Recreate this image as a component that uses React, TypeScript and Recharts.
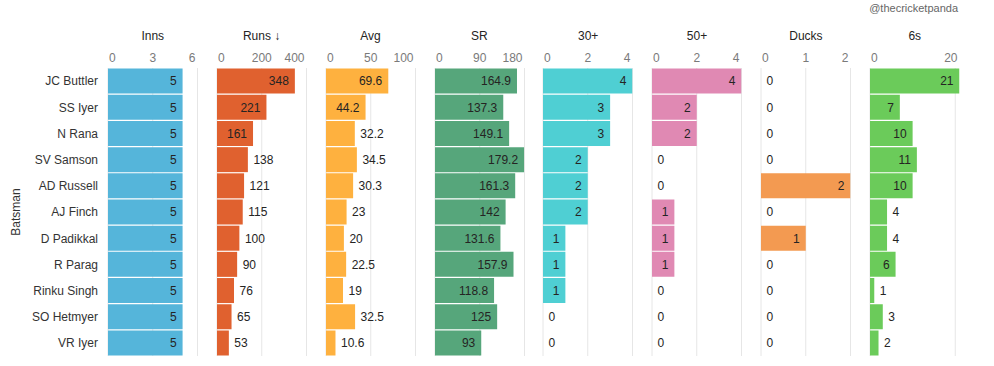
import { Bar, BarChart, CartesianGrid, LabelList, XAxis, YAxis } from 'recharts';

const batsmen = [
  'JC Buttler',
  'SS Iyer',
  'N Rana',
  'SV Samson',
  'AD Russell',
  'AJ Finch',
  'D Padikkal',
  'R Parag',
  'Rinku Singh',
  'SO Hetmyer',
  'VR Iyer',
];

const inns = [5, 5, 5, 5, 5, 5, 5, 5, 5, 5, 5];
const runs = [348, 221, 161, 138, 121, 115, 100, 90, 76, 65, 53];
const avg = [69.6, 44.2, 32.2, 34.5, 30.3, 23, 20, 22.5, 19, 32.5, 10.6];
const strikeRate = [164.9, 137.3, 149.1, 179.2, 161.3, 142, 131.6, 157.9, 118.8, 125, 93];
const thirties = [4, 3, 3, 2, 2, 2, 1, 1, 1, 0, 0];
const fifties = [4, 2, 2, 0, 0, 1, 1, 1, 0, 0, 0];
const ducks = [0, 0, 0, 0, 2, 0, 1, 0, 0, 0, 0];
const sixes = [21, 7, 10, 11, 10, 4, 4, 6, 1, 3, 2];

const titles = ['Inns', 'Runs ↓', 'Avg', 'SR', '30+', '50+', 'Ducks', '6s'];
const tickSets = [
  [0, 3, 6],
  [0, 200, 400],
  [0, 50, 100],
  [0, 90, 180],
  [0, 2, 4],
  [0, 2, 4],
  [0, 1, 2],
  [0, 20],
];
const domainMax = [6, 400, 100, 180, 4, 4, 2, 21];
const colors = ['#55B5DA', '#E0612F', '#FEB13F', '#56A67B', '#4FCFD3', '#E089B3', '#F39A51', '#6BCB5A'];
const seriesValues = [inns, runs, avg, strikeRate, thirties, fifties, ducks, sixes];

const FONT = '"Liberation Sans", Arial, sans-serif';
const TEXT = '#252423';
const CHART_H = 366;
const PLOT_TOP = 68;
const PLOT_BOTTOM = 356;
const FIRST_LEFT = 108;
const PITCH = 108.86;
const PLOT_W = 89.5;
const Y_AXIS_W = 108;

// rough width of a 12px label, good enough to decide inside/outside
function textWidth(s: string) {
  let w = 0;
  for (const c of s) w += c === '.' ? 3.34 : 6.67;
  return w;
}

function ValueLabel(props: any) {
  const { x, y, width, height, value } = props;
  const label = String(value);
  const w = textWidth(label);
  const inside = width >= w + 12;
  const tx = inside ? x + width - 6 : x + width + 5.5;
  return (
    <text
      x={tx}
      y={y + height / 2}
      dy="0.36em"
      textAnchor={inside ? 'end' : 'start'}
      fontSize={12}
      fontFamily={FONT}
      fill={TEXT}
    >
      {label}
    </text>
  );
}

function makeTick(left: number, right: number) {
  return (props: any) => {
    const { x, payload } = props;
    const label = String(payload.value);
    const half = textWidth(label) / 2;
    let cx = x;
    if (cx - half < left + 1) cx = left + 1 + half;
    if (cx + half > right - 2) cx = right - 2 - half;
    return (
      <text x={cx} y={PLOT_TOP - 6} textAnchor="middle" fontSize={12} fontFamily={FONT} fill="#7a7a7a">
        {label}
      </text>
    );
  };
}

function NameTick(props: any) {
  const { y, payload } = props;
  return (
    <text x={98} y={y} dy="0.36em" textAnchor="end" fontSize={12} fontFamily={FONT} fill="#333">
      {payload.value}
    </text>
  );
}

// zero bars have no rect, so their "0" label rides on the category tick
function makeZeroTick(values: number[], left: number) {
  return (props: any) => {
    const { y, index } = props;
    if (values[index] !== 0) return <g />;
    return (
      <text x={left + 5.5} y={y} dy="0.36em" textAnchor="start" fontSize={12} fontFamily={FONT} fill={TEXT}>
        0
      </text>
    );
  };
}

function MetricPanel({ index }: { index: number }) {
  const values = seriesValues[index];
  const data = batsmen.map((name, i) => ({ name, value: values[i] }));
  const first = index === 0;
  const plotLeft = FIRST_LEFT + index * PITCH;
  const marginLeft = first ? 0 : 3;
  const yW = first ? Y_AXIS_W : 1;
  const localLeft = marginLeft + yW;
  const width = localLeft + PLOT_W + 4;
  const ticks = tickSets[index];

  return (
    <div style={{ position: 'absolute', left: plotLeft - localLeft, top: 0 }}>
      <BarChart
        layout="vertical"
        width={width}
        height={CHART_H}
        data={data}
        margin={{ top: PLOT_TOP - 20, right: 4, bottom: CHART_H - PLOT_BOTTOM, left: marginLeft }}
        barCategoryGap={0.6}
      >
        <CartesianGrid horizontal={false} stroke="#e6e6e6" syncWithTicks />
        <XAxis
          type="number"
          orientation="top"
          domain={[0, domainMax[index]]}
          ticks={ticks}
          interval={0}
          height={20}
          axisLine={false}
          tickLine={false}
          allowDataOverflow
          tick={makeTick(localLeft, localLeft + PLOT_W)}
        />
        <YAxis
          type="category"
          dataKey="name"
          width={yW}
          interval={0}
          axisLine={false}
          tickLine={false}
          tick={first ? <NameTick /> : makeZeroTick(values, localLeft)}
        />
        <Bar dataKey="value" fill={colors[index]} isAnimationActive={false}>
          <LabelList dataKey="value" content={<ValueLabel />} />
        </Bar>
      </BarChart>
    </div>
  );
}

export default function App() {
  return (
    <div
      style={{
        position: 'absolute',
        left: 0,
        top: 0,
        width: 994,
        height: 366,
        background: '#fff',
        fontFamily: FONT,
        overflow: 'hidden',
      }}
    >
      <div
        style={{
          position: 'absolute',
          right: 36,
          top: 2,
          fontSize: 11,
          lineHeight: '13px',
          color: '#666',
        }}
      >
        @thecricketpanda
      </div>
      <div
        style={{
          position: 'absolute',
          left: 15.5,
          top: 212,
          fontSize: 12,
          color: '#333',
          whiteSpace: 'nowrap',
          transform: 'translate(-50%, -50%) rotate(-90deg)',
        }}
      >
        Batsman
      </div>
      {titles.map((t, i) => (
        <div
          key={t}
          style={{
            position: 'absolute',
            left: FIRST_LEFT + i * PITCH,
            width: PLOT_W,
            top: 28.5,
            lineHeight: '14px',
            fontSize: 12,
            textAlign: 'center',
            color: TEXT,
          }}
        >
          {t}
        </div>
      ))}
      {titles.map((t, i) => (
        <MetricPanel key={t} index={i} />
      ))}
    </div>
  );
}
